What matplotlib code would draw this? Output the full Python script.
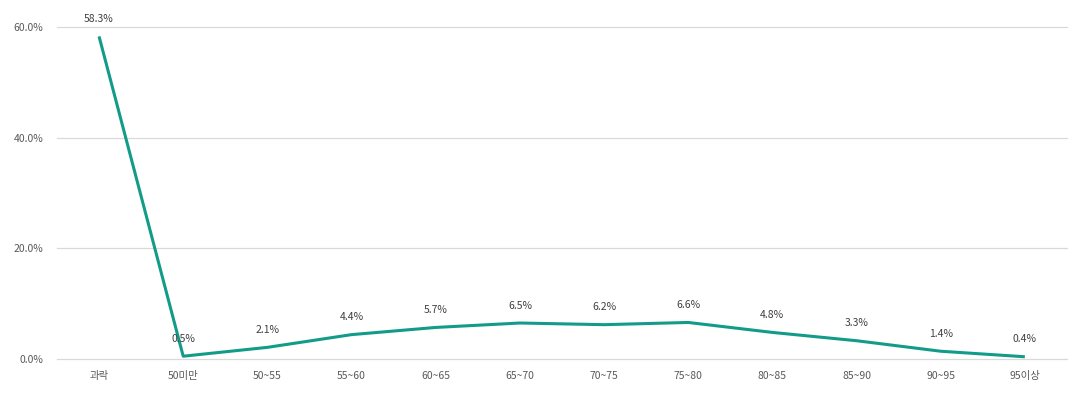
import matplotlib
matplotlib.use("Agg")
import matplotlib.pyplot as plt

plt.rcParams['font.family'] = ['Noto Sans CJK KR', 'DejaVu Sans']

categories = ['과락', '50미만', '50~55', '55~60', '60~65', '65~70',
              '70~75', '75~80', '80~85', '85~90', '90~95', '95이상']
values = [58.3, 0.5, 2.1, 4.4, 5.7, 6.5, 6.2, 6.6, 4.8, 3.3, 1.4, 0.4]
yticks = [0, 20, 40, 60]

fig = plt.figure(figsize=(10.81, 4.13), dpi=100)
ax = fig.add_axes([0.0527, 0.1308, 0.9343, 0.8038])

x = list(range(len(categories)))
ax.plot(x, values, color='#139B8A', linewidth=2.2, solid_capstyle='butt', zorder=3)

for xi, v in zip(x, values):
    ax.annotate(f'{v:.1f}%', (xi, v), xytext=(0, 9), textcoords='offset points',
                ha='center', va='bottom', fontsize=7.5, color='#404040', fontweight='medium')

ax.set_xlim(-0.5, len(categories) - 0.5)
ax.set_ylim(0, 60)
ax.set_yticks(yticks)
ax.set_yticklabels([f'{t:.1f}%' for t in yticks])
ax.set_xticks(x)
ax.set_xticklabels(categories)
ax.tick_params(axis='both', length=0, labelsize=7.5, colors='#595959')
ax.tick_params(axis='x', pad=9)
ax.tick_params(axis='y', pad=10)
ax.grid(axis='y', color='#d9d9d9', linewidth=0.9)
for gl in ax.get_ygridlines():
    gl.set_clip_on(False)
ax.set_axisbelow(True)
for s in ax.spines.values():
    s.set_visible(False)

fig.savefig('out.png', dpi=100)
